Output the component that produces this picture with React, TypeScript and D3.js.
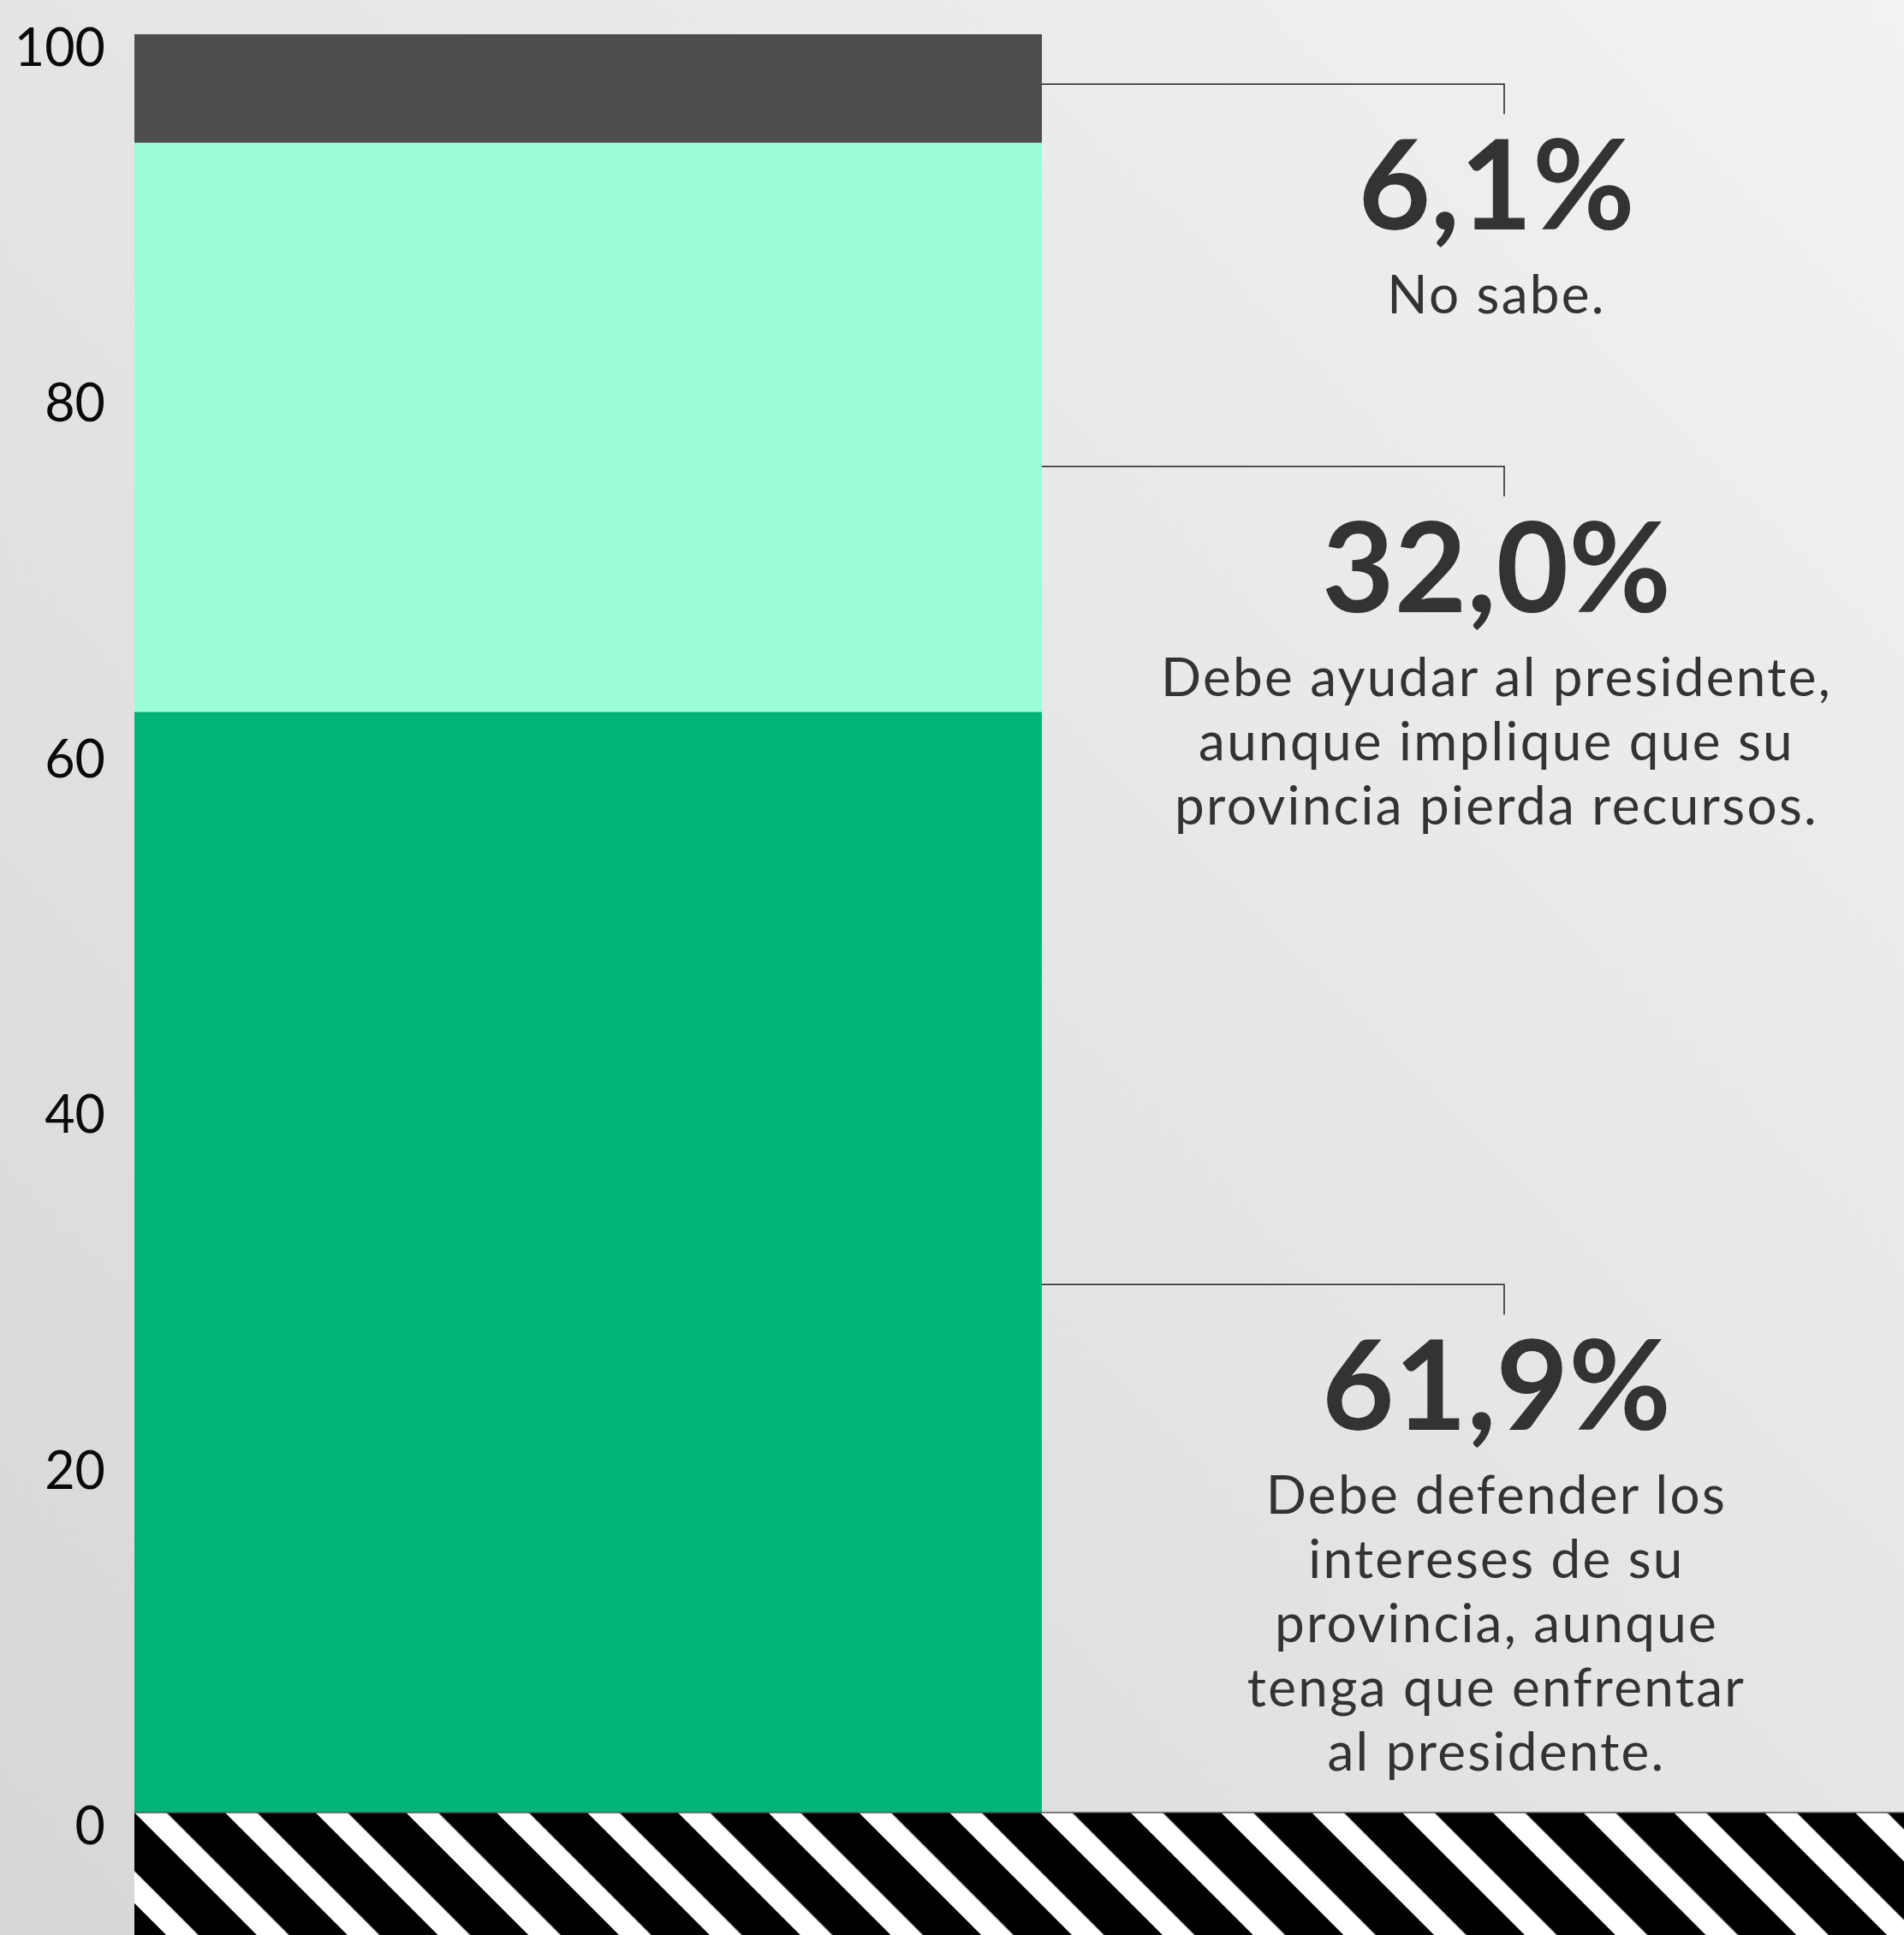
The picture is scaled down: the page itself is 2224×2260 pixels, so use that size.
import React from "react";
import * as d3 from "d3";

// ---- Data ----
const categories = ["Defender provincia", "Ayudar al presidente", "No sabe"];
const values = [61.9, 32.0, 6.1];
const colors = ["#01b576", "#9afdd5", "#4d4d4d"];
const labelAnchors = [29.7, 75.7, 97.2];
const descriptions = [
  ["Debe defender los", "intereses de su", "provincia, aunque", "tenga que enfrentar", "al presidente."],
  ["Debe ayudar al presidente,", "aunque implique que su", "provincia pierda recursos."],
  ["No sabe."],
];
const yTicks = [0, 20, 40, 60, 80, 100];

const W = 2224;
const H = 2260;

export default function App() {
  const y = d3.scaleLinear().domain([0, 100]).range([2117, 40]);
  const x = d3.scaleBand().domain(["bar"]).range([157, 1217]).padding(0);
  const locale = d3.formatLocale({ decimal: ",", thousands: ".", grouping: [3], currency: ["", "%"] });
  const fmt = locale.format(".1f");

  const stack = d3.stack<number[]>().keys(values.map((_, i) => String(i))).value((d, k) => d[+k]);
  const series = stack([values]);

  const bx = x("bar") as number;
  const bw = x.bandwidth();
  const connectorX = 1757;
  const textX = 1748;
  const y0 = y(0);

  const stripePeriod = 74.8;
  const stripeWhite = 26.5;
  const stripeOffset = Math.SQRT1_2 * (bx - y0);

  return (
    <div style={{ position: "absolute", left: 0, top: 0, width: W, height: H }}>
      <svg width={W} height={H} style={{ display: "block" }}>
        <defs>
          <linearGradient id="bg" x1="0" y1="1" x2="1" y2="0">
            <stop offset="0" stopColor="#d7d7d7" />
            <stop offset="1" stopColor="#f2f2f2" />
          </linearGradient>
          <pattern
            id="stripes"
            patternUnits="userSpaceOnUse"
            width={stripePeriod}
            height={20}
            x={stripeOffset}
            patternTransform="rotate(-45)"
          >
            <rect x={0} y={0} width={stripePeriod} height={20} fill="#000" />
            <rect x={0} y={0} width={stripeWhite} height={20} fill="#fff" />
          </pattern>
        </defs>
        <rect x={0} y={0} width={W} height={H} fill="url(#bg)" />

        {/* bar segments */}
        {series.map((s, i) => (
          <rect
            key={categories[i]}
            x={bx}
            y={y(s[0][1])}
            width={bw}
            height={y(s[0][0]) - y(s[0][1])}
            fill={colors[i]}
          />
        ))}

        {/* striped floor */}
        <rect x={bx} y={y0} width={W - bx} height={H - y0} fill="url(#stripes)" />
        <line x1={bx} x2={W} y1={y0} y2={y0} stroke="#555" strokeWidth={1.5} />

        {/* y axis labels */}
        {yTicks.map((t) => (
          <text
            key={t}
            x={123}
            y={y(t) + 37}
            textAnchor="end"
            fontFamily="Lato, sans-serif"
            fontSize={61}
            fill="#0a0a0a"
          >
            {t}
          </text>
        ))}

        {/* annotations */}
        {values.map((v, i) => {
          const ly = y(labelAnchors[i]);
          return (
            <g key={"a" + i}>
              <path
                d={`M${bx + bw},${ly}H${connectorX}V${ly + 35}`}
                fill="none"
                stroke="#222"
                strokeWidth={1.5}
              />
              <text
                x={textX}
                y={ly + 170}
                textAnchor="middle"
                fontFamily="Lato, sans-serif"
                fontWeight={700}
                fontSize={146}
                fill="#333"
              >
                {fmt(v)}%
              </text>
              {descriptions[i].map((line, j) => (
                <text
                  key={j}
                  x={textX}
                  y={ly + 268 + j * 75}
                  textAnchor="middle"
                  fontFamily="Lato, sans-serif"
                  fontSize={62}
                  letterSpacing={2.3}
                  fill="#333"
                >
                  {line}
                </text>
              ))}
            </g>
          );
        })}
      </svg>
    </div>
  );
}
